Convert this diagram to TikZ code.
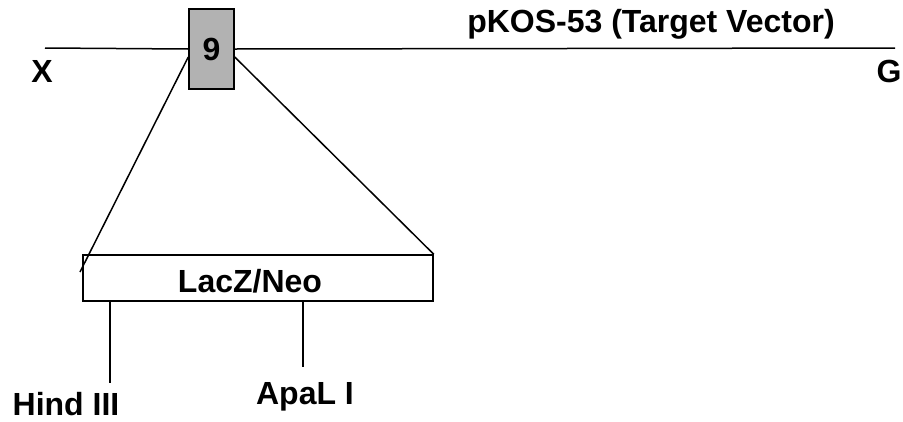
\documentclass[tikz,border=0pt]{standalone}
\usepackage{fontspec}
\setmainfont{Liberation Sans}
\usepackage{tikz}
\usetikzlibrary{positioning}
\definecolor{exongray}{HTML}{B2B2B2}

\begin{document}
\begin{tikzpicture}[x=1pt, y=-1pt, line width=1.5pt,
  every node/.style = {font=\bfseries\fontsize{32}{38}\selectfont},
  exonbox/.style = {shape=rectangle, draw, fill=exongray,
    minimum width=45pt, minimum height=80pt, inner sep=0pt},
  cassette/.style = {shape=rectangle, draw, fill=white,
    minimum width=350pt, minimum height=46pt, inner sep=0pt}]
  \useasboundingbox (0,0) rectangle (903,421);

  % vector backbone
  \coordinate (vl) at (45,48);
  \coordinate (vr) at (895,48);
  \node (exon) [exonbox] at (211.5,49) {9};
  \node (title) [anchor=base] at (651,32) {pKOS-53 (Target Vector)};
  \node (xend) [anchor=base] at (42,82) {X};
  \node (gend) [anchor=base] at (889,82) {G};
  \draw (vl) -- (exon.west);
  \draw (exon.east) -- (vr);

  % insertion
  \node (lacz) [cassette] at (258,278) {};
  \node (laczlab) [anchor=base] at (250,292) {LacZ/Neo};
  \coordinate (lz) at (80,272);
  \draw ([yshift=-8pt]exon.west) -- (lz);
  \draw ([yshift=-8pt]exon.east) -- (lacz.north east);

  % restriction sites
  \coordinate (hind) at (110,383);
  \coordinate (apal) at (303,367);
  \draw (lacz.south west -| hind) -- (hind);
  \draw (lacz.south west -| apal) -- (apal);
  \node (hindlab) [anchor=base] at (66,415) {Hind III};
  \node (apallab) [anchor=base] at (305,404) {ApaL I};
\end{tikzpicture}
\end{document}
